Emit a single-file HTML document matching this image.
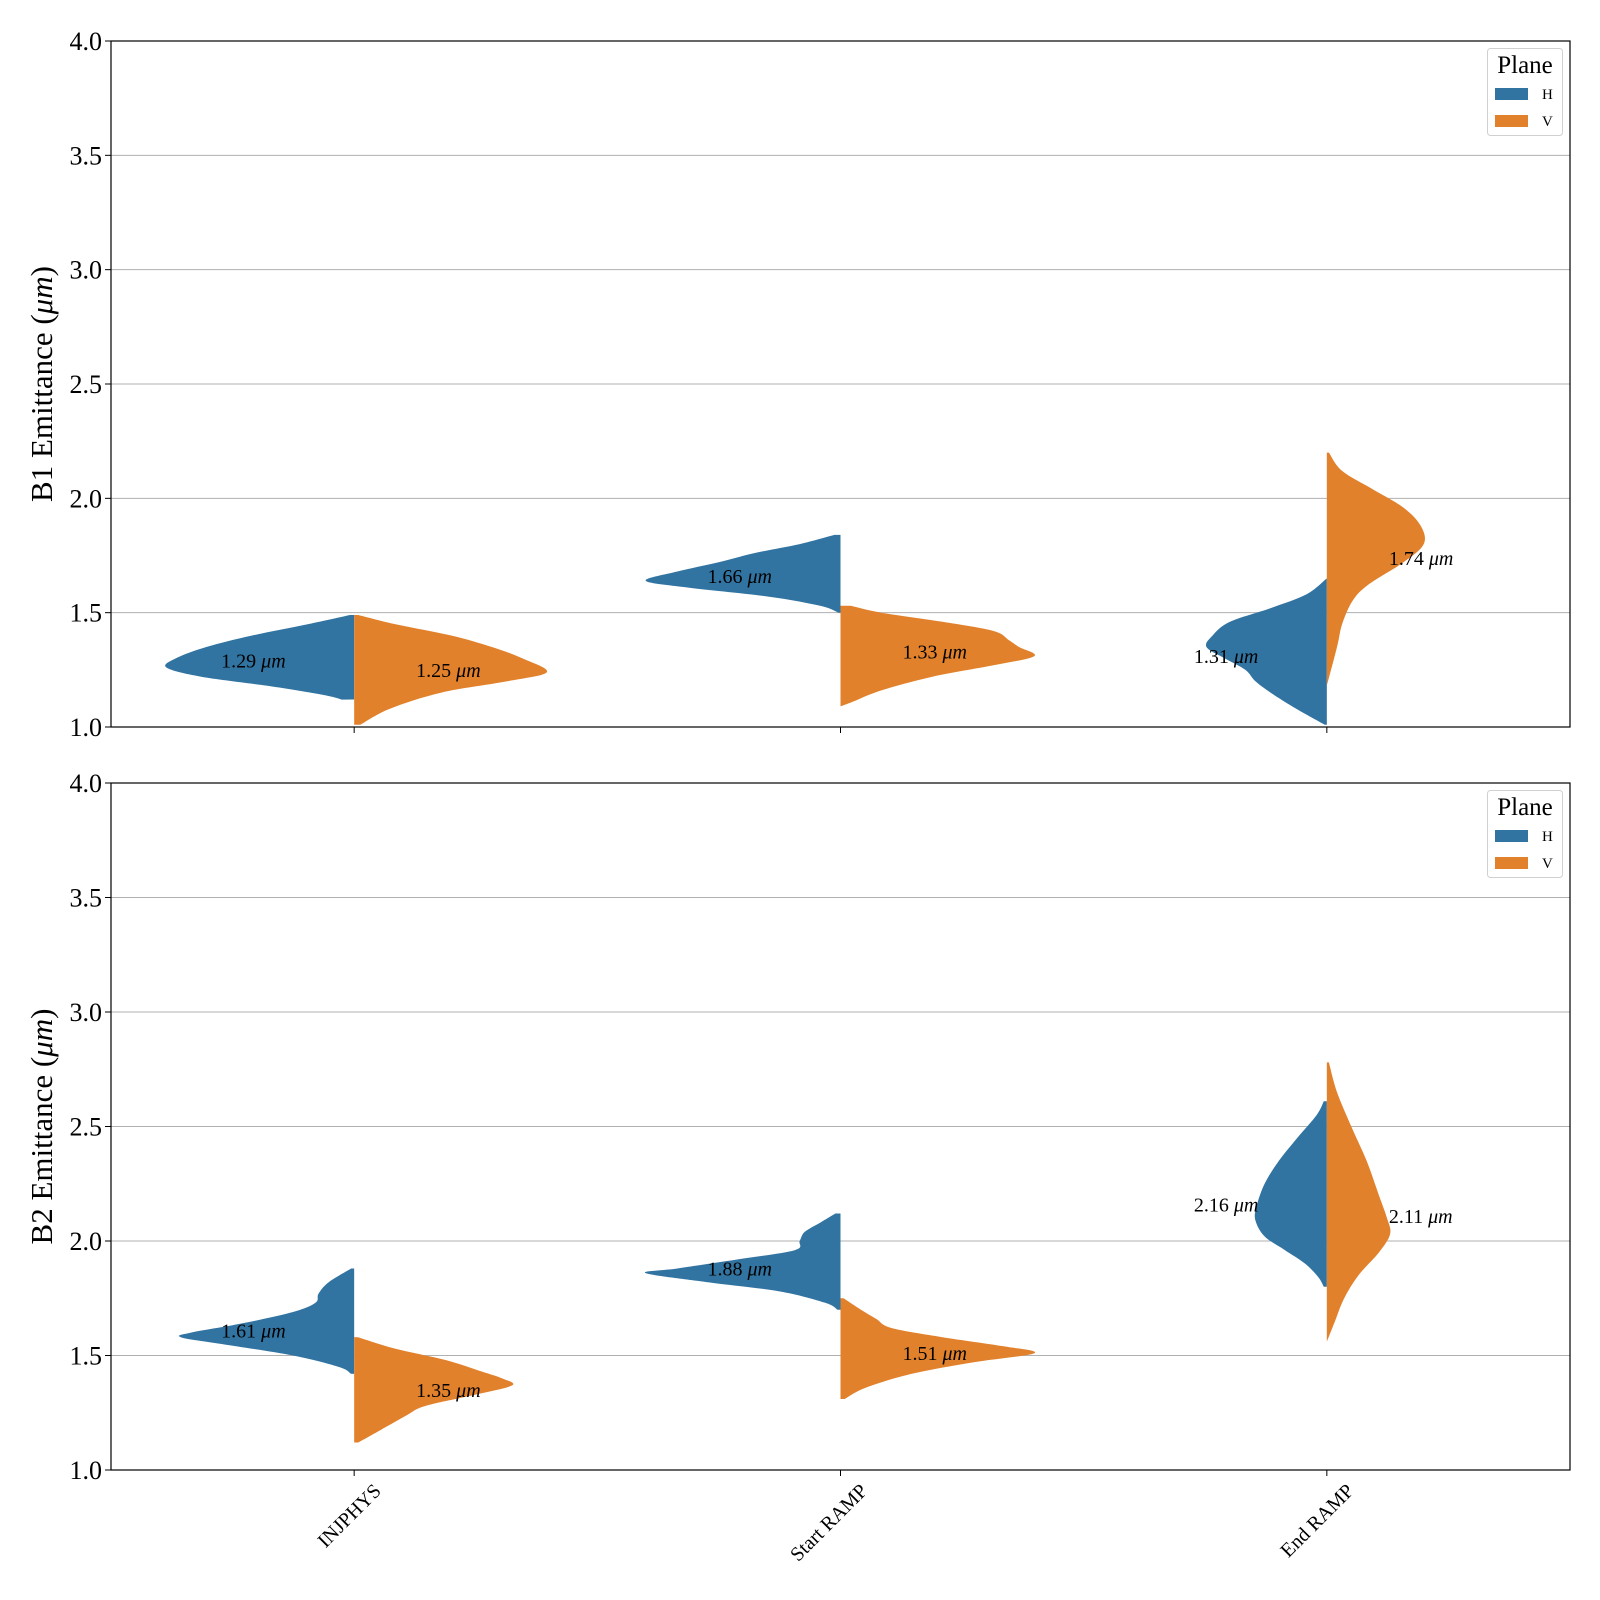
<!DOCTYPE html>
<html><head><meta charset="utf-8"><style>
html,body{margin:0;padding:0;background:#fff;}
svg{display:block;font-family:"Liberation Serif","DejaVu Serif",serif;}
</style></head><body>
<svg id="chart" width="1600" height="1600" viewBox="0 0 1600 1600" xmlns="http://www.w3.org/2000/svg"></svg>
<script>
// ---- data ----
const categories = ["INJPHYS", "Start RAMP", "End RAMP"];
const planes = ["H", "V"];
const yTicks = [1.0, 1.5, 2.0, 2.5, 3.0, 3.5, 4.0];
const yTickLabels = ["1.0", "1.5", "2.0", "2.5", "3.0", "3.5", "4.0"];
const panelTitles = ["B1 Emittance (", "B2 Emittance ("];
// medians printed as annotations [panel][category][plane]
const b1Medians = [[1.29, 1.25], [1.66, 1.33], [1.31, 1.74]];
const b2Medians = [[1.61, 1.35], [1.88, 1.51], [2.16, 2.11]];
// density profiles: emittance values and density (half-width) values
const b1InjH_vals = [1.49, 1.45, 1.40, 1.35, 1.30, 1.26, 1.22, 1.18, 1.14, 1.12];
const b1InjH_dens = [4, 45, 100, 145, 175, 184, 150, 85, 30, 12];
const b1InjV_vals = [1.49, 1.45, 1.40, 1.35, 1.30, 1.24, 1.20, 1.15, 1.08, 1.01];
const b1InjV_dens = [4, 40, 95, 135, 165, 189, 150, 85, 35, 6];
const b1StartH_vals = [1.84, 1.80, 1.76, 1.72, 1.68, 1.64, 1.61, 1.57, 1.53, 1.50];
const b1StartH_dens = [6, 40, 85, 120, 160, 191, 150, 70, 20, 2];
const b1StartV_vals = [1.53, 1.50, 1.46, 1.42, 1.38, 1.35, 1.31, 1.27, 1.22, 1.16, 1.11, 1.09];
const b1StartV_dens = [10, 40, 100, 150, 165, 175, 190, 150, 90, 40, 12, 0];
const b1EndH_vals = [1.65, 1.58, 1.52, 1.46, 1.40, 1.35, 1.30, 1.25, 1.20, 1.15, 1.08, 1.01];
const b1EndH_dens = [0, 20, 55, 95, 112, 118, 100, 80, 70, 55, 30, 2];
const b1EndV_vals = [2.20, 2.12, 2.04, 1.96, 1.88, 1.80, 1.72, 1.62, 1.55, 1.45, 1.35, 1.18];
const b1EndV_dens = [2, 15, 45, 75, 92, 95, 75, 40, 25, 15, 10, 0];
const b2InjH_vals = [1.88, 1.82, 1.77, 1.73, 1.69, 1.64, 1.60, 1.58, 1.55, 1.50, 1.45, 1.42];
const b2InjH_dens = [3, 25, 35, 38, 60, 110, 160, 170, 130, 60, 15, 3];
const b2InjV_vals = [1.58, 1.53, 1.48, 1.43, 1.40, 1.37, 1.33, 1.28, 1.24, 1.18, 1.12];
const b2InjV_dens = [4, 40, 90, 125, 145, 155, 120, 70, 52, 28, 4];
const b2StartH_vals = [2.12, 2.08, 2.04, 2.00, 1.96, 1.92, 1.88, 1.86, 1.82, 1.78, 1.73, 1.70];
const b2StartH_dens = [5, 20, 35, 40, 45, 100, 160, 191, 130, 60, 15, 3];
const b2StartV_vals = [1.75, 1.70, 1.66, 1.62, 1.58, 1.54, 1.51, 1.47, 1.42, 1.36, 1.31];
const b2StartV_dens = [3, 20, 35, 50, 100, 160, 190, 130, 70, 25, 4];
const b2EndH_vals = [2.61, 2.55, 2.45, 2.35, 2.25, 2.15, 2.09, 2.02, 1.96, 1.90, 1.84, 1.80];
const b2EndH_dens = [3, 10, 29, 47, 61, 69, 70, 61, 41, 21, 8, 3];
const b2EndV_vals = [2.78, 2.65, 2.50, 2.35, 2.20, 2.10, 2.03, 1.95, 1.85, 1.75, 1.65, 1.56];
const b2EndV_dens = [2, 10, 24, 39, 51, 59, 62, 51, 31, 17, 8, 0];

const panels = [
  {top: 41, bottom: 727, label: "B1", medians: b1Medians,
   profiles: [[[b1InjH_vals,b1InjH_dens],[b1InjV_vals,b1InjV_dens]],
              [[b1StartH_vals,b1StartH_dens],[b1StartV_vals,b1StartV_dens]],
              [[b1EndH_vals,b1EndH_dens],[b1EndV_vals,b1EndV_dens]]]},
  {top: 783, bottom: 1470, label: "B2", medians: b2Medians,
   profiles: [[[b2InjH_vals,b2InjH_dens],[b2InjV_vals,b2InjV_dens]],
              [[b2StartH_vals,b2StartH_dens],[b2StartV_vals,b2StartV_dens]],
              [[b2EndH_vals,b2EndH_dens],[b2EndV_vals,b2EndV_dens]]]}
];
const colors = ["#3274a1", "#e1812c"];
const L = 111, R = 1570, WSCALE = 1.02;
const NS = "http://www.w3.org/2000/svg";
const svg = document.getElementById('chart');
function mk(tag, attrs, parent) {
  const e = document.createElementNS(NS, tag);
  for (const k in attrs) e.setAttribute(k, attrs[k]);
  (parent || svg).appendChild(e);
  return e;
}
function xScale(i) { return L + (R - L) * (i + 0.5) / categories.length; }

function smoothPath(pts) {
  let d = "M" + pts[0][0] + "," + pts[0][1];
  for (let i = 0; i < pts.length - 1; i++) {
    const p0 = pts[Math.max(0, i - 1)], p1 = pts[i], p2 = pts[i + 1], p3 = pts[Math.min(pts.length - 1, i + 2)];
    const c1x = p1[0] + (p2[0] - p0[0]) / 6, c1y = p1[1] + (p2[1] - p0[1]) / 6;
    const c2x = p2[0] - (p3[0] - p1[0]) / 6, c2y = p2[1] - (p3[1] - p1[1]) / 6;
    d += " C" + c1x.toFixed(1) + "," + c1y.toFixed(1) + " " + c2x.toFixed(1) + "," + c2y.toFixed(1) + " " + p2[0].toFixed(1) + "," + p2[1].toFixed(1);
  }
  return d;
}

panels.forEach((p, pi) => {
  const yScale = v => p.bottom - (v - 1.0) / 3.0 * (p.bottom - p.top);
  const g = mk('g', {});
  
  
  yTicks.forEach((t, ti) => {
    const y = yScale(t);
    if (ti > 0 && ti < yTicks.length - 1) {
      const gl = mk('line', {x1: L, x2: R, y1: y, y2: y, stroke: '#b0b0b0', 'stroke-width': 1}, g);
      
      
    }
    const tk = mk('line', {x1: L - 6, x2: L, y1: y, y2: y, stroke: '#000', 'stroke-width': 1}, g);
    
    
    const tl = mk('text', {x: L - 9, y: y + 9, 'text-anchor': 'end', 'font-size': 26}, g);
    tl.textContent = yTickLabels[ti];
    
    
  });
  p.profiles.forEach((cat, ci) => {
    const cx = xScale(ci);
    cat.forEach((prof, si) => {
      const vals = prof[0], dens = prof[1];
      const sign = si === 0 ? -1 : 1;
      const pts = vals.map((v, k) => [cx + sign * dens[k] * WSCALE, yScale(v)]);
      let d = "M" + cx + "," + yScale(vals[0]) + " L" + pts[0][0].toFixed(1) + "," + pts[0][1].toFixed(1);
      d += smoothPath(pts).replace(/^M[^ ]+/, "");
      d += " L" + cx + "," + yScale(vals[vals.length - 1]) + " Z";
      const path = mk('path', {d: d, fill: colors[si], stroke: 'none'}, g);
      
      
      const m = p.medians[ci][si];
      const tx = si === 0 ? cx - 133 : cx + 62;
      const t = mk('text', {x: tx, y: yScale(m) + 7, 'font-size': 20}, g);
      t.innerHTML = m.toFixed(2) + ' <tspan font-style="italic">μm</tspan>';
      
      
    });
    const xt = mk('line', {x1: cx, x2: cx, y1: p.bottom, y2: p.bottom + 6, stroke: '#000', 'stroke-width': 1}, g);
    
    
    if (pi === 1) {
      const ax = cx + 28, ay = p.bottom + 22;
      const xl = mk('text', {x: ax, y: ay, 'text-anchor': 'end', 'font-size': 20,
        transform: 'rotate(-45 ' + ax + ' ' + ay + ')'}, g);
      xl.textContent = categories[ci];
      
      
    }
  });
  const fr = mk('rect', {x: L, y: p.top, width: R - L, height: p.bottom - p.top, fill: 'none', stroke: '#000', 'stroke-width': 1.2}, g);
  
  
  const my = (p.top + p.bottom) / 2;
  const yl = mk('text', {x: 52, y: my, 'text-anchor': 'middle', 'font-size': 31, transform: 'rotate(-90 52 ' + my + ')'}, g);
  yl.innerHTML = panelTitles[pi] + '<tspan font-style="italic">μm</tspan>)';
  
  
  const lg = mk('g', {transform: 'translate(0,' + (p.top - 41) + ')'}, g);
  
  
  mk('rect', {x: 1487.5, y: 48.5, width: 75, height: 87, rx: 3, fill: '#fff', stroke: '#d0d0d0', 'stroke-width': 1}, lg);
  const lt = mk('text', {x: 1525, y: 73, 'text-anchor': 'middle', 'font-size': 25}, lg);
  lt.textContent = 'Plane';
  
  
  planes.forEach((pl, k) => {
    const sw = mk('rect', {x: 1495, y: 88 + k * 27, width: 33, height: 12, fill: colors[k]}, lg);
    
    
    const t = mk('text', {x: 1542, y: 99 + k * 27, 'font-size': 15}, lg);
    t.textContent = pl;
    
    
  });
});
</script>
</body></html>
